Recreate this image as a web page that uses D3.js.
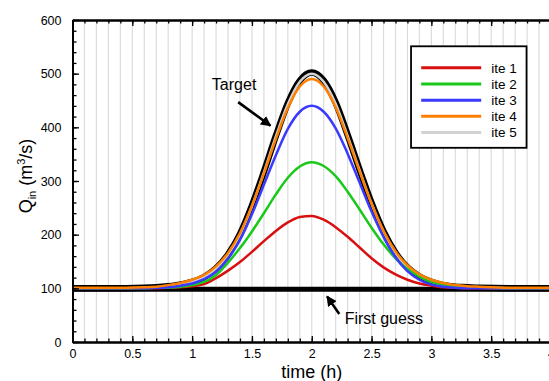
<!DOCTYPE html>
<html>
<head>
<meta charset="utf-8">
<script src="https://cdn.jsdelivr.net/npm/d3@7"></script>
<style>
    body { margin: 0; background: #fff; }
    svg { font-family: "Liberation Sans", Arial, Helvetica, sans-serif; display: block; }
</style>
</head>
<body>
<div class="chart-container"></div>
<script>
// data (time in h, discharge in m3/s)
const times = [0, 0.3, 0.6, 0.7, 0.8, 0.9, 1.0, 1.1, 1.2, 1.3, 1.4, 1.5, 1.6, 1.7, 1.8, 1.9,
    2.0, 2.1, 2.2, 2.3, 2.4, 2.5, 2.6, 2.7, 2.8, 2.9, 3.0, 3.1, 3.2, 3.3, 3.4, 3.7, 4.0];

const target = [100, 100, 101, 102, 104, 107, 112, 121, 137, 163, 201, 254, 317, 384, 445, 487,
    502, 487, 446, 386, 321, 259, 206, 166, 139, 122, 112, 106, 103, 102, 101, 100, 100];
const ite1 = [100, 100, 100, 100, 101, 102, 104, 108, 119, 133, 149, 168, 188, 207, 223, 233,
    235, 228, 214, 196, 176, 156, 139, 126, 116, 109, 105, 102, 101, 100, 100, 100, 100];
const ite2 = [100, 100, 100, 101, 101, 103, 106, 112, 125, 148, 175, 206, 240, 275, 306, 327,
    335, 328, 309, 280, 247, 213, 182, 156, 136, 122, 112, 107, 104, 102, 101, 100, 100];
const ite3 = [100, 100, 100, 101, 102, 105, 109, 117, 131, 155, 190, 238, 293, 348, 397, 429,
    440, 429, 398, 351, 297, 243, 196, 158, 132, 116, 107, 103, 101, 100, 100, 100, 100];
const ite4 = [101, 101, 102, 103, 106, 110, 116, 125, 141, 166, 203, 254, 314, 378, 436, 476,
    490, 476, 437, 380, 318, 258, 207, 169, 143, 126, 116, 110, 106, 104, 103, 101, 101];
const ite5 = [100, 100, 101, 102, 104, 107, 112, 121, 137, 163, 200, 253, 316, 383, 443, 485,
    500, 485, 444, 384, 320, 258, 206, 166, 139, 122, 112, 106, 103, 102, 101, 100, 100];

const firstGuessTimes = [0, 4];
const firstGuess = [98.5, 98.5];

const seriesNames = ["ite 1", "ite 2", "ite 3", "ite 4", "ite 5"];
const seriesValues = [ite1, ite2, ite3, ite4, ite5];
const seriesColors = ["#d81010", "#19c819", "#3a3aff", "#ff8000", "#d2d2d2"];

const xMajorTicks = [0, 0.5, 1, 1.5, 2, 2.5, 3, 3.5, 4];
const yMajorTicks = [0, 100, 200, 300, 400, 500, 600];

// canvas
const svg_width = 549;
const svg_height = 381;
const margin = { top: 20, right: -2, bottom: 39, left: 72.5 };
const width = svg_width - margin.left - margin.right;
const height = svg_height - margin.top - margin.bottom;

const svg = d3.select(".chart-container").append("svg")
    .attr("width", svg_width)
    .attr("height", svg_height);

const g = svg.append("g")
    .attr("transform", `translate(${margin.left},${margin.top})`);

// scales
const xScale = d3.scaleLinear([0, 4], [0, width]);
const yScale = d3.scaleLinear([0, 600], [height, 0]);

const xMinor = d3.range(0, 4.0001, 0.1).map(d => +d.toFixed(1));
const yMinor = d3.range(0, 600.1, 20);

// vertical grid
g.append("g").attr("class", "grid")
    .selectAll("line")
    .data(xMinor.filter(d => d > 0 && d < 4))
    .join("line")
    .attr("x1", d => xScale(d)).attr("x2", d => xScale(d))
    .attr("y1", 0).attr("y2", height)
    .attr("stroke", "#dcdcdc")
    .attr("stroke-width", 1.2);

// curves
const line = d3.line()
    .x(d => xScale(d[0]))
    .y(d => yScale(d[1]))
    .curve(d3.curveMonotoneX);

const curves = g.append("g").attr("class", "curves");

curves.append("path")
    .datum(firstGuessTimes.map((t, i) => [t, firstGuess[i]]))
    .attr("d", line)
    .attr("fill", "none")
    .attr("stroke", "#000")
    .attr("stroke-width", 5);

curves.append("path")
    .datum(times.map((t, i) => [t, target[i]]))
    .attr("d", line)
    .attr("fill", "none")
    .attr("stroke", "#000")
    .attr("stroke-width", 6.5);

// draw order: ite 5 on the target, then ite 1 .. ite 4
const order = [4, 0, 1, 2, 3];
order.forEach(k => {
    curves.append("path")
        .datum(times.map((t, i) => [t, seriesValues[k][i]]))
        .attr("d", line)
        .attr("fill", "none")
        .attr("stroke", seriesColors[k])
        .attr("stroke-width", 2.5);
});

// axes
const tickFmt = d => d3.format("~g")(d);

g.append("g")
    .attr("transform", `translate(0,${height})`)
    .call(d3.axisBottom(xScale).tickValues(xMajorTicks).tickFormat(tickFmt)
        .tickSizeInner(-6).tickSizeOuter(0).tickPadding(7));
g.append("g")
    .attr("transform", `translate(0,${height})`)
    .call(d3.axisBottom(xScale).tickValues(xMinor).tickFormat("")
        .tickSizeInner(-3.5).tickSizeOuter(0));

g.append("g")
    .call(d3.axisTop(xScale).tickValues(xMajorTicks).tickFormat("")
        .tickSizeInner(-6).tickSizeOuter(0));
g.append("g")
    .call(d3.axisTop(xScale).tickValues(xMinor).tickFormat("")
        .tickSizeInner(-3.5).tickSizeOuter(0));

g.append("g")
    .call(d3.axisLeft(yScale).tickValues(yMajorTicks).tickFormat(tickFmt)
        .tickSizeInner(-6.5).tickSizeOuter(0).tickPadding(11));
g.append("g")
    .call(d3.axisLeft(yScale).tickValues(yMinor).tickFormat("")
        .tickSizeInner(-4).tickSizeOuter(0));

g.selectAll(".domain").attr("stroke", "#000").attr("stroke-width", 2);
g.selectAll(".tick line").attr("stroke", "#000").attr("stroke-width", 1.3);
g.selectAll(".tick text").attr("fill", "#000").style("font-size", "12.5px")
    .style("font-family", "'Liberation Sans', Arial, sans-serif");

// axis titles
g.append("text")
    .attr("x", xScale(2))
    .attr("y", height + 36)
    .attr("text-anchor", "middle")
    .style("font-size", "18px")
    .text("time (h)");

const yTitle = g.append("text")
    .attr("transform", `translate(${-41},${yScale(300) - 5}) rotate(-90)`)
    .attr("text-anchor", "middle")
    .style("font-size", "18px");
yTitle.append("tspan").text("Q");
yTitle.append("tspan").text("in").style("font-size", "11px").attr("dy", 4);
yTitle.append("tspan").text(" (m").attr("dy", -4);
yTitle.append("tspan").text("3").style("font-size", "11px").attr("dy", -7);
yTitle.append("tspan").text("/s)").attr("dy", 7);

// legend
const legend = g.append("g").attr("class", "legend");
legend.append("rect")
    .attr("x", xScale(2.83)).attr("y", yScale(551))
    .attr("width", 115.5).attr("height", 101.5)
    .attr("fill", "#fff")
    .attr("stroke", "#000")
    .attr("stroke-width", 1.8);

const rows = legend.selectAll(".row")
    .data(seriesNames)
    .join("g")
    .attr("class", "row")
    .attr("transform", (d, i) => `translate(${xScale(2.915)},${yScale(511) + i * 16.2})`);
rows.append("line")
    .attr("x1", 0).attr("x2", 60)
    .attr("stroke", (d, i) => seriesColors[i])
    .attr("stroke-width", 3);
rows.append("text")
    .attr("x", 70)
    .attr("dy", "0.36em")
    .style("font-size", "13.5px")
    .text(d => d);

// annotations
const defs = svg.append("defs");
defs.append("marker")
    .attr("id", "head")
    .attr("viewBox", "0 0 10 10")
    .attr("refX", 9).attr("refY", 5)
    .attr("markerWidth", 4).attr("markerHeight", 4)
    .attr("orient", "auto")
    .append("path")
    .attr("d", "M0,0L10,5L0,10z")
    .attr("fill", "#000");

g.append("text")
    .attr("x", xScale(1.165)).attr("y", yScale(469))
    .style("font-size", "16px")
    .text("Target");
g.append("line")
    .attr("x1", xScale(1.385)).attr("y1", yScale(447))
    .attr("x2", xScale(1.655)).attr("y2", yScale(403))
    .attr("stroke", "#000").attr("stroke-width", 2.6)
    .attr("marker-end", "url(#head)");

g.append("text")
    .attr("x", xScale(2.275)).attr("y", yScale(34))
    .style("font-size", "16px")
    .text("First guess");
g.append("line")
    .attr("x1", xScale(2.23)).attr("y1", yScale(52))
    .attr("x2", xScale(2.128)).attr("y2", yScale(85))
    .attr("stroke", "#000").attr("stroke-width", 2.6)
    .attr("marker-end", "url(#head)");
</script>
</body>
</html>
